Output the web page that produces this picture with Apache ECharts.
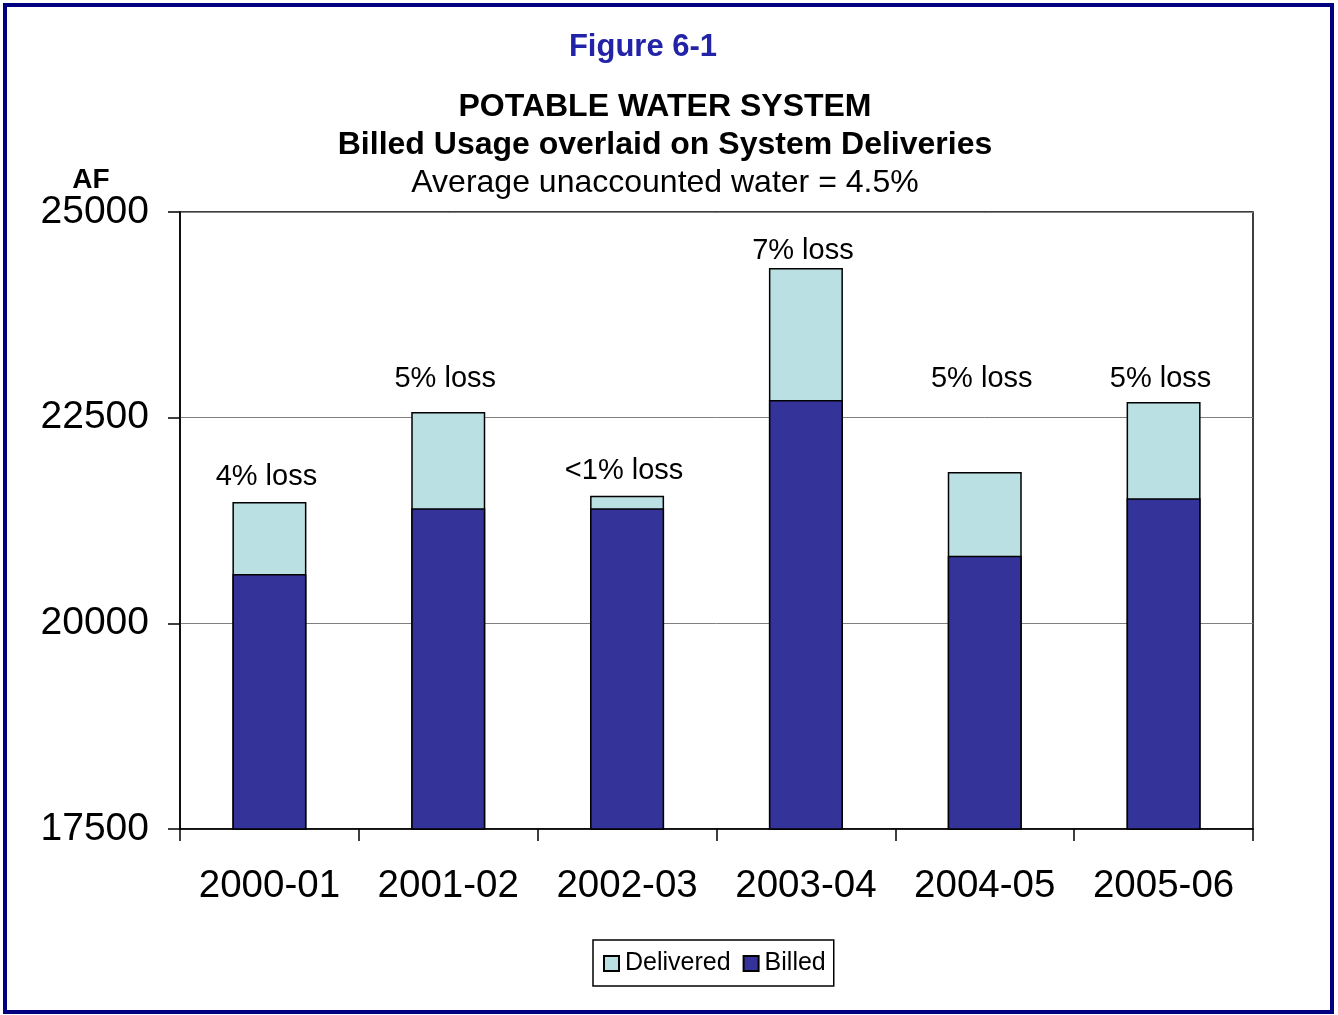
<!DOCTYPE html>
<html><head><meta charset="utf-8">
<script src="https://cdn.jsdelivr.net/npm/echarts@6/dist/echarts.min.js"></script>
<style>html,body{margin:0;padding:0;background:#fff}#c{width:1338px;height:1015px}</style>
</head><body><div id="c"></div>
<script>
const categories = ['2000-01','2001-02','2002-03','2003-04','2004-05','2005-06'];
const delivered = [21475, 22570, 21550, 24320, 21840, 22690];
const billed = [20600, 21400, 21400, 22715, 20820, 21520];
const lossLabels = ['4% loss','5% loss','<1% loss','7% loss','5% loss','5% loss'];
const lossLabelY = [21775, 22970, 21850, 24525, 22970, 22970];
const yTicks = [17500, 20000, 22500, 25000];

const chart = echarts.init(document.getElementById('c'));
const font = 'Liberation Sans, Arial, sans-serif';
chart.setOption({
  animation: false,
  backgroundColor: '#fff',
  title: [
    {text: 'Figure 6-1', left: 638, textAlign: 'center', top: 27, textStyle: {fontFamily: font, fontSize: 31, fontWeight: 'bold', color: '#2323A8'}},
    {text: 'POTABLE WATER SYSTEM', left: 660, textAlign: 'center', top: 86, textStyle: {fontFamily: font, fontSize: 32, fontWeight: 'bold', color: '#000'}},
    {text: 'Billed Usage overlaid on System Deliveries', left: 660, textAlign: 'center', top: 124, textStyle: {fontFamily: font, fontSize: 32, fontWeight: 'bold', color: '#000'}},
    {text: 'Average unaccounted water = 4.5%', left: 660, textAlign: 'center', top: 162, textStyle: {fontFamily: font, fontSize: 32, fontWeight: 'normal', color: '#000'}},
    {text: 'AF', left: 86, textAlign: 'center', top: 161, textStyle: {fontFamily: font, fontSize: 28, fontWeight: 'bold', color: '#000'}}
  ],
  graphic: [{type: 'rect', shape: {x: 5, y: 5, width: 1327, height: 1007}, style: {fill: 'none', stroke: '#000080', lineWidth: 4}}],
  legend: {
    data: ['Delivered', 'Billed'], bottom: 29, left: 593,
    icon: 'rect', itemWidth: 15, itemHeight: 15, itemGap: 12,
    padding: [11, 8, 10, 10],
    borderColor: '#000', borderWidth: 1.5,
    textStyle: {fontFamily: font, fontSize: 25, color: '#000', padding: [0,0,0,1]}
  },
  grid: {left: 180, right: 85, top: 212, bottom: 186, show: true, borderColor: '#000', borderWidth: 1.5, containLabel: false},
  xAxis: {
    type: 'category', data: categories, boundaryGap: true,
    axisLine: {lineStyle: {color: '#000', width: 1.5}},
    axisTick: {show: true, interval: 0, length: 12, lineStyle: {color: '#000', width: 1.5}, alignWithLabel: false},
    axisLabel: {interval: 0, hideOverlap: false, fontFamily: font, fontSize: 38.5, color: '#000', margin: 38}
  },
  yAxis: {
    type: 'value', min: 17500, max: 25000, interval: 2500,
    axisLine: {show: true, lineStyle: {color: '#000', width: 1.5}},
    axisTick: {show: true, length: 12, lineStyle: {color: '#000', width: 1.5}},
    axisLabel: {fontFamily: font, fontSize: 39, color: '#000', margin: 31,
      formatter: v => yTicks.includes(v) ? String(v) : ''},
    splitLine: {lineStyle: {color: '#808080', width: 1}}
  },
  series: [
    {name: 'Delivered', type: 'bar', data: delivered, barWidth: 74, barGap: '-100%',
      itemStyle: {color: '#BBE0E3', borderColor: '#000', borderWidth: 1.5}},
    {name: 'Billed', type: 'bar', data: billed, barWidth: 74,
      itemStyle: {color: '#333399', borderColor: '#000', borderWidth: 1.5}},
    {name: 'loss', type: 'scatter', data: lossLabelY, symbolSize: 0, silent: true,
      itemStyle: {opacity: 1},
      label: {show: true, position: 'inside', offset: [-3, 0], formatter: p => lossLabels[p.dataIndex],
        fontFamily: font, fontSize: 29, color: '#000', opacity: 1, textBorderWidth: 0}}
  ]
});
</script></body></html>
